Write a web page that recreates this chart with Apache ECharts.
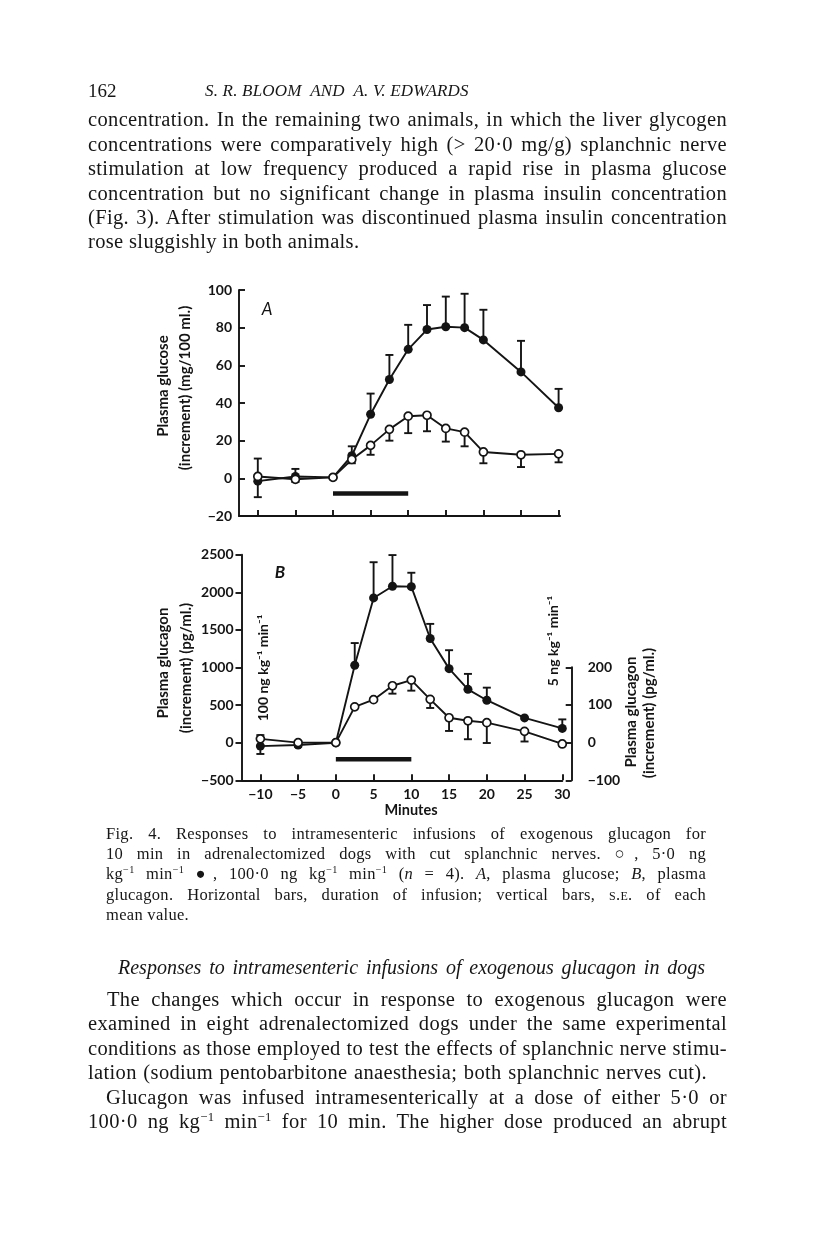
<!DOCTYPE html>
<html>
<head>
<meta charset="utf-8">
<script src="https://cdn.jsdelivr.net/npm/echarts@6/dist/echarts.min.js"></script>
<style>
  html, body { margin: 0; padding: 0; background: #fff; }
  #page { position: relative; width: 816px; height: 1235px; overflow: hidden; }
  #chart { position: absolute; left: 0; top: 0; width: 816px; height: 1235px; }
  .t { position: absolute; font-family: "Liberation Serif", "DejaVu Serif", serif; color: #161616; white-space: nowrap; z-index: 2; }
  .body { font-size: 20.5px; line-height: 24px; letter-spacing: 0.35px; }
  .cap { font-size: 16.5px; line-height: 20px; letter-spacing: 0.3px; }
  .j { text-align: justify; text-align-last: justify; white-space: normal; }
  sup { font-size: 0.62em; line-height: 0; vertical-align: 0.55em; }
  .sc { font-variant: small-caps; }
</style>
</head>
<body>
<div id="page">
  <div id="chart"></div>

  <div class="t body" style="left:88px; top:79px; font-size:19px; letter-spacing:0;">162</div>
  <div class="t" style="left:205px; top:79px; font-size:17px; line-height:24px; font-style:italic; letter-spacing:0.2px;">S. R. BLOOM&nbsp; AND&nbsp; A. V. EDWARDS</div>

  <div class="t body j" style="left:88px; top:107px; width:639px;">concentration. In the remaining two animals, in which the liver glycogen</div>
  <div class="t body j" style="left:88px; top:132px; width:639px;">concentrations were comparatively high (&gt; 20·0 mg/g) splanchnic nerve</div>
  <div class="t body j" style="left:88px; top:156px; width:639px;">stimulation at low frequency produced a rapid rise in plasma glucose</div>
  <div class="t body j" style="left:88px; top:181px; width:639px;">concentration but no significant change in plasma insulin concentration</div>
  <div class="t body j" style="left:88px; top:205px; width:639px;">(Fig. 3). After stimulation was discontinued plasma insulin concentration</div>
  <div class="t body" style="left:88px; top:229px;">rose sluggishly in both animals.</div>

  <div class="t cap j" style="left:106px; top:824px; width:600px;">Fig. 4. Responses to intramesenteric infusions of exogenous glucagon for</div>
  <div class="t cap j" style="left:106px; top:844px; width:600px;">10 min in adrenalectomized dogs with cut splanchnic nerves. ○, 5·0 ng</div>
  <div class="t cap j" style="left:106px; top:864px; width:600px;">kg<sup>−1</sup> min<sup>−1</sup> ●, 100·0 ng kg<sup>−1</sup> min<sup>−1</sup> (<i>n</i> = 4). <i>A</i>, plasma glucose; <i>B</i>, plasma</div>
  <div class="t cap j" style="left:106px; top:885px; width:600px;">glucagon. Horizontal bars, duration of infusion; vertical bars, <span class="sc">s.e.</span> of each</div>
  <div class="t cap" style="left:106px; top:905px;">mean value.</div>

  <div class="t j" style="left:118px; top:955px; width:587px; font-size:20px; line-height:24px; font-style:italic;">Responses to intramesenteric infusions of exogenous glucagon in dogs</div>

  <div class="t body j" style="left:107px; top:987px; width:620px;">The changes which occur in response to exogenous glucagon were</div>
  <div class="t body j" style="left:88px; top:1011px; width:639px;">examined in eight adrenalectomized dogs under the same experimental</div>
  <div class="t body j" style="left:88px; top:1036px; width:639px;">conditions as those employed to test the effects of splanchnic nerve stimu-</div>
  <div class="t body j" style="left:88px; top:1060px; width:619px;">lation (sodium pentobarbitone anaesthesia; both splanchnic nerves cut).</div>
  <div class="t body j" style="left:106px; top:1085px; width:621px;">Glucagon was infused intramesenterically at a dose of either 5·0 or</div>
  <div class="t body j" style="left:88px; top:1109px; width:639px;">100·0 ng kg<sup>−1</sup> min<sup>−1</sup> for 10 min. The higher dose produced an abrupt</div>
</div>

<script>
// sampling times (min)
var minutes = [-10, -5, 0, 2.5, 5, 7.5, 10, 12.5, 15, 17.5, 20, 25, 30];
var minuteTicks = [-10, -5, 0, 5, 10, 15, 20, 25, 30];

// A: plasma glucose increment (mg/100 ml)
var glucoseHigh   = [-1.5, 1, 0.5, 12, 34, 52.5, 68.5, 79, 80.5, 80, 73.5, 56.5, 37.5];   // 100 ng, filled
var glucoseHighSE = [-10, 5, null, 17, 45, 65.5, 81.5, 92, 96.5, 98, 89.5, 73, 47.5];    // end of s.e. bar
var glucoseLow    = [1, -0.5, 0.5, 10, 17.5, 26, 33, 33.5, 26.5, 24.5, 14, 12.5, 13];     // 5 ng, open
var glucoseLowSE  = [10.5, -2, null, 8, 12.5, 20, 24, 25, 19.5, 17, 8, 6, 8.5];

// B: plasma glucagon increment (pg/ml); 100 ng on left axis, 5 ng on right axis
var glucagonHigh   = [-45, -30, 0, 1030, 1925, 2080, 2075, 1385, 985, 710, 565, 330, 190];
var glucagonHighSE = [-150, -55, null, 1325, 2400, 2495, 2260, 1580, 1230, 915, 732, null, 310];
var glucagonLow    = [10, 0, 0, 95, 114, 151, 166, 115, 66, 58, 53, 30, -3.5];
var glucagonLowSE  = [20, -3, null, null, null, 130, 138, 92, 31, 9, -1, 3, -8];

// infusion period
var infusion = [0, 10];
var infusionLevelA = -8;
var infusionLevelB = -220;

var ink = '#141414';
var sans = 'Lato, "DejaVu Sans", sans-serif';

function pairs(ys) {
  return minutes.map(function (t, i) { return [t, ys[i]]; });
}
function bars(ys, ends) {
  return minutes.map(function (t, i) { return [t, ys[i], ends[i]]; })
    .filter(function (d) { return d[2] != null; });
}
function minus(v) { return String(v).replace('-', '\u2212'); }

function meanLine(xi, yi, ys, filled) {
  return {
    type: 'line', xAxisIndex: xi, yAxisIndex: yi, data: pairs(ys), z: 4,
    symbol: 'circle', symbolSize: filled ? 9 : 8,
    itemStyle: filled ? { color: ink } : { color: '#fff', borderColor: ink, borderWidth: 1.7 },
    lineStyle: { color: ink, width: 1.9 }
  };
}
function errBars(xi, yi, ys, ends) {
  return {
    type: 'custom', xAxisIndex: xi, yAxisIndex: yi, z: 2,
    data: bars(ys, ends), encode: { x: 0, y: [1, 2] },
    renderItem: function (params, api) {
      var p0 = api.coord([api.value(0), api.value(1)]);
      var p1 = api.coord([api.value(0), api.value(2)]);
      var st = { stroke: ink, lineWidth: 1.9 };
      return { type: 'group', children: [
        { type: 'line', shape: { x1: p0[0], y1: p0[1], x2: p1[0], y2: p1[1] }, style: st },
        { type: 'line', shape: { x1: p1[0] - 4, y1: p1[1], x2: p1[0] + 4, y2: p1[1] }, style: st }
      ] };
    }
  };
}
function infusionBar(xi, yi, level) {
  return {
    type: 'line', xAxisIndex: xi, yAxisIndex: yi, symbol: 'none', z: 3,
    data: infusion.map(function (t) { return [t, level]; }),
    lineStyle: { color: ink, width: 4.5, cap: 'butt' }
  };
}
function label(text, x, y, rot, size, extra) {
  var style = { text: text, fill: ink, font: 'bold ' + size + 'px ' + sans, textAlign: 'center', textVerticalAlign: 'middle' };
  if (extra) style.font = extra + ' ' + size + 'px ' + sans;
  return { type: 'text', x: x, y: y, rotation: rot, style: style, z: 10 };
}

var axisLine = { show: true, onZero: false, lineStyle: { color: ink, width: 1.9 } };
var tickLabel = { color: ink, fontFamily: sans, fontWeight: 'bold', fontSize: 14 };

var chart = echarts.init(document.getElementById('chart'), null, { renderer: 'canvas' });
chart.setOption({
  animation: false,
  backgroundColor: '#fff',
  grid: [
    { left: 239, top: 290, width: 321.1, height: 226 },
    { left: 241.5, top: 554.7, width: 320.8, height: 225.6 },
    { left: 241.5, top: 667.3, width: 330.2, height: 113 }
  ],
  xAxis: [
    { type: 'value', gridIndex: 0, min: -12.5, max: 30.2, axisLine: axisLine, splitLine: { show: false },
      axisTick: { inside: true, length: 6, lineStyle: { color: ink, width: 1.9 }, customValues: minuteTicks },
      axisLabel: { show: false } },
    { type: 'value', gridIndex: 1, min: -12.5, max: 30, axisLine: axisLine, splitLine: { show: false },
      axisTick: { inside: true, length: 6, lineStyle: { color: ink, width: 1.9 }, customValues: minuteTicks },
      axisLabel: Object.assign({}, tickLabel, { customValues: minuteTicks, margin: 7, formatter: minus }) },
    { type: 'value', gridIndex: 2, min: -12.5, max: 31.25, show: false }
  ],
  yAxis: [
    { type: 'value', gridIndex: 0, min: -20, max: 100, interval: 20, axisLine: axisLine, splitLine: { show: false },
      axisTick: { show: true, inside: true, length: 6, lineStyle: { color: ink, width: 1.9 } },
      axisLabel: Object.assign({ margin: 7, formatter: minus }, tickLabel) },
    { type: 'value', gridIndex: 1, min: -500, max: 2500, interval: 500, axisLine: axisLine, splitLine: { show: false },
      axisTick: { show: true, inside: false, length: 6, lineStyle: { color: ink, width: 1.9 } },
      axisLabel: Object.assign({ margin: 8, formatter: minus }, tickLabel) },
    { type: 'value', gridIndex: 2, position: 'right', min: -100, max: 200, interval: 100, axisLine: axisLine,
      splitLine: { show: false },
      axisTick: { show: true, inside: true, length: 6, lineStyle: { color: ink, width: 1.9 } },
      axisLabel: Object.assign({ margin: 16, formatter: minus }, tickLabel) }
  ],
  series: [
    errBars(0, 0, glucoseHigh, glucoseHighSE),
    errBars(0, 0, glucoseLow, glucoseLowSE),
    meanLine(0, 0, glucoseHigh, true),
    meanLine(0, 0, glucoseLow, false),
    infusionBar(0, 0, infusionLevelA),
    errBars(1, 1, glucagonHigh, glucagonHighSE),
    errBars(2, 2, glucagonLow, glucagonLowSE),
    meanLine(1, 1, glucagonHigh, true),
    meanLine(2, 2, glucagonLow, false),
    infusionBar(1, 1, infusionLevelB)
  ],
  graphic: [
    label('Plasma glucose', 163, 386, Math.PI / 2, 15),
    label('(increment) (mg/100 ml.)', 185, 388, Math.PI / 2, 15),
    label('Plasma glucagon', 163, 663, Math.PI / 2, 15),
    label('(increment) (pg/ml.)', 186, 668, Math.PI / 2, 15),
    label('Plasma glucagon', 631, 712, Math.PI / 2, 15),
    label('(increment) (pg/ml.)', 649, 713, Math.PI / 2, 15),
    label('100 ng kg\u207B\u00B9 min\u207B\u00B9', 263, 668, Math.PI / 2, 14),
    label('5 ng kg\u207B\u00B9 min\u207B\u00B9', 553, 641, Math.PI / 2, 14),
    label('Minutes', 411, 810, 0, 14.5),
    label('A', 267, 310, 0, 17, 'italic'),
    label('B', 280, 573, 0, 17, 'italic bold')
  ]
});
</script>
</body>
</html>
